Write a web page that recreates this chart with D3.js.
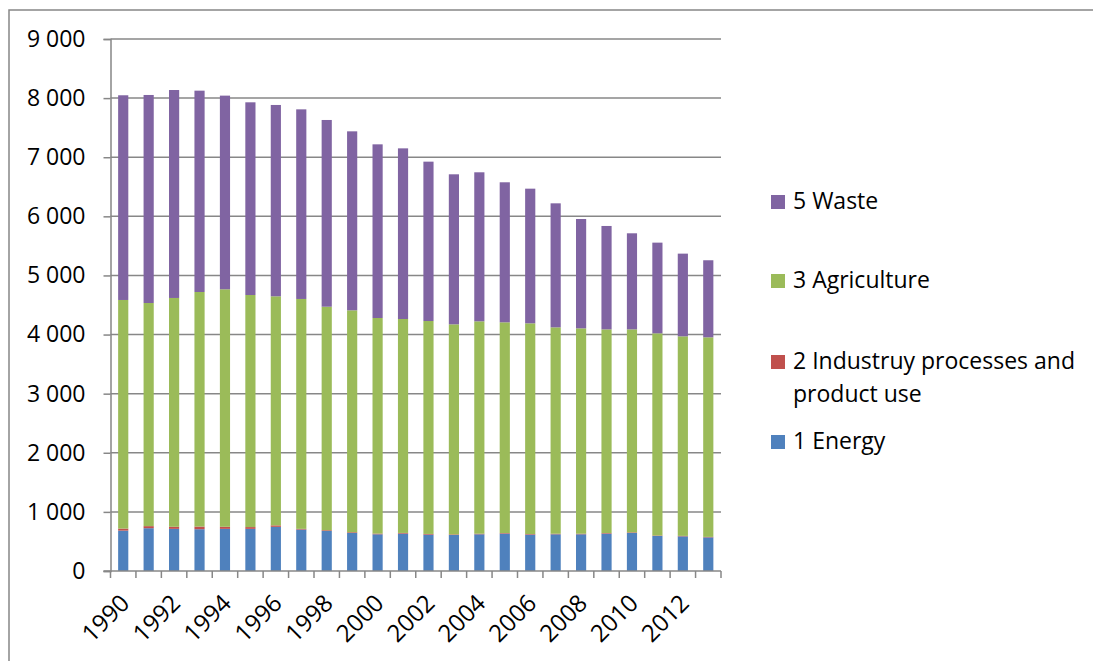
<!DOCTYPE html>
<html>
<head>
<meta charset="utf-8">
<script src="https://cdn.jsdelivr.net/npm/d3@7"></script>
<style>
  html, body { margin: 0; padding: 0; background: #fff; }
  svg { display: block; }
  text { font-family: "Open Sans", sans-serif; fill: #000; }
</style>
</head>
<body>
<svg id="chart" width="1093" height="661"></svg>
<script>
// Emissions by sector, 1990-2013
const years = d3.range(1990, 2014).map(String);
const energy = [683, 724, 713, 707, 713, 713, 747, 701, 678, 644, 621, 632,
                615, 609, 621, 632, 615, 621, 621, 632, 644, 592, 586, 569];
const industry = [35, 35, 35, 45, 35, 30, 25, 12, 12, 12, 12, 12,
                  12, 10, 10, 10, 10, 10, 10, 10, 10, 8, 8, 8];
const agriculture = [3867, 3775, 3871, 3968, 4018, 3926, 3875, 3889, 3781, 3754, 3647, 3619,
                     3602, 3554, 3593, 3565, 3565, 3491, 3474, 3446, 3434, 3421, 3376, 3376];
const waste = [3463, 3519, 3518, 3406, 3276, 3260, 3237, 3208, 3159, 3028, 2938, 2887,
               2696, 2538, 2521, 2369, 2278, 2098, 1850, 1749, 1625, 1534, 1399, 1304];
const yTicks = [0, 1000, 2000, 3000, 4000, 5000, 6000, 7000, 8000, 9000];
const xLabelYears = years.filter((d, i) => i % 2 === 0);

const seriesKeys = ["energy", "industry", "agriculture", "waste"];
const colors = {
  energy: "#4F81BD",
  industry: "#C0504D",
  agriculture: "#9BBB59",
  waste: "#8064A2"
};

const rows = years.map((y, i) => ({
  year: y,
  energy: energy[i],
  industry: industry[i],
  agriculture: agriculture[i],
  waste: waste[i]
}));

const svg = d3.select("#chart");
const plot = { left: 110.5, right: 721, top: 39, bottom: 571 };
const gridColor = "#878787";

// chart frame
svg.append("rect")
  .attr("x", 9).attr("y", 10)
  .attr("width", 1200).attr("height", 800)
  .attr("fill", "none")
  .attr("stroke", gridColor)
  .attr("stroke-width", 1.5);

const x = d3.scaleBand()
  .domain(years)
  .range([plot.left, plot.right])
  .paddingInner(0.6)
  .paddingOuter(0.3);

const y = d3.scaleLinear()
  .domain([0, 9000])
  .range([plot.bottom, plot.top]);

// horizontal gridlines
svg.append("g")
  .selectAll("line")
  .data(yTicks.filter(d => d > 0))
  .join("line")
  .attr("x1", plot.left).attr("x2", plot.right)
  .attr("y1", d => y(d)).attr("y2", d => y(d))
  .attr("stroke", gridColor)
  .attr("stroke-width", 1.5);

// stacked bars
const stack = d3.stack().keys(seriesKeys);
const layers = stack(rows);

svg.append("g")
  .selectAll("g")
  .data(layers)
  .join("g")
  .attr("fill", d => colors[d.key])
  .selectAll("rect")
  .data(d => d)
  .join("rect")
  .attr("x", d => x(d.data.year))
  .attr("width", x.bandwidth())
  .attr("y", d => y(d[1]))
  .attr("height", d => y(d[0]) - y(d[1]));

// y axis
const yAxis = d3.axisLeft(y)
  .tickValues(yTicks)
  .tickSize(7)
  .tickPadding(18)
  .tickFormat(d => d3.format(",")(d).replace(/,/g, " "));

const gy = svg.append("g")
  .attr("transform", `translate(${plot.left},0)`)
  .call(yAxis);
gy.select(".domain").attr("stroke", gridColor).attr("stroke-width", 1.5);
gy.selectAll(".tick line").attr("stroke", gridColor).attr("stroke-width", 1.5);
gy.selectAll(".tick text")
  .style("font-family", "'Open Sans', sans-serif")
  .style("font-size", "23px")
  .attr("fill", "#000");

// x axis: ticks at category boundaries
const boundaries = d3.range(years.length + 1).map(i => plot.left + i * (plot.right - plot.left) / years.length);
const gx = svg.append("g");
gx.append("line")
  .attr("x1", plot.left - 7).attr("x2", plot.right)
  .attr("y1", plot.bottom).attr("y2", plot.bottom)
  .attr("stroke", gridColor).attr("stroke-width", 1.5);
gx.selectAll("line.tick")
  .data(boundaries)
  .join("line")
  .attr("class", "tick")
  .attr("x1", d => d).attr("x2", d => d)
  .attr("y1", plot.bottom).attr("y2", plot.bottom + 7)
  .attr("stroke", gridColor).attr("stroke-width", 1.5);

gx.selectAll("text")
  .data(xLabelYears)
  .join("text")
  .attr("transform", d => `translate(${x(d) + x.bandwidth() / 2 + 1},${plot.bottom + 27}) rotate(-45)`)
  .attr("text-anchor", "end")
  .attr("dominant-baseline", "central")
  .style("font-size", "24px")
  .text(d => d);

// legend
const legendItems = [
  { key: "waste", y: 202, lines: ["5 Waste"] },
  { key: "agriculture", y: 281, lines: ["3 Agriculture"] },
  { key: "industry", y: 362, lines: ["2 Industruy processes and", "product use"] },
  { key: "energy", y: 442, lines: ["1 Energy"] }
];
const legend = svg.append("g");
legendItems.forEach(item => {
  legend.append("rect")
    .attr("x", 771).attr("y", item.y - 7)
    .attr("width", 14).attr("height", 14)
    .attr("fill", colors[item.key]);
  const t = legend.append("text")
    .attr("x", 793)
    .attr("y", item.y + 7)
    .style("font-size", "23px");
  item.lines.forEach((line, i) => {
    t.append("tspan")
      .attr("x", 793)
      .attr("dy", i === 0 ? 0 : 33)
      .text(line);
  });
});
</script>
</body>
</html>
